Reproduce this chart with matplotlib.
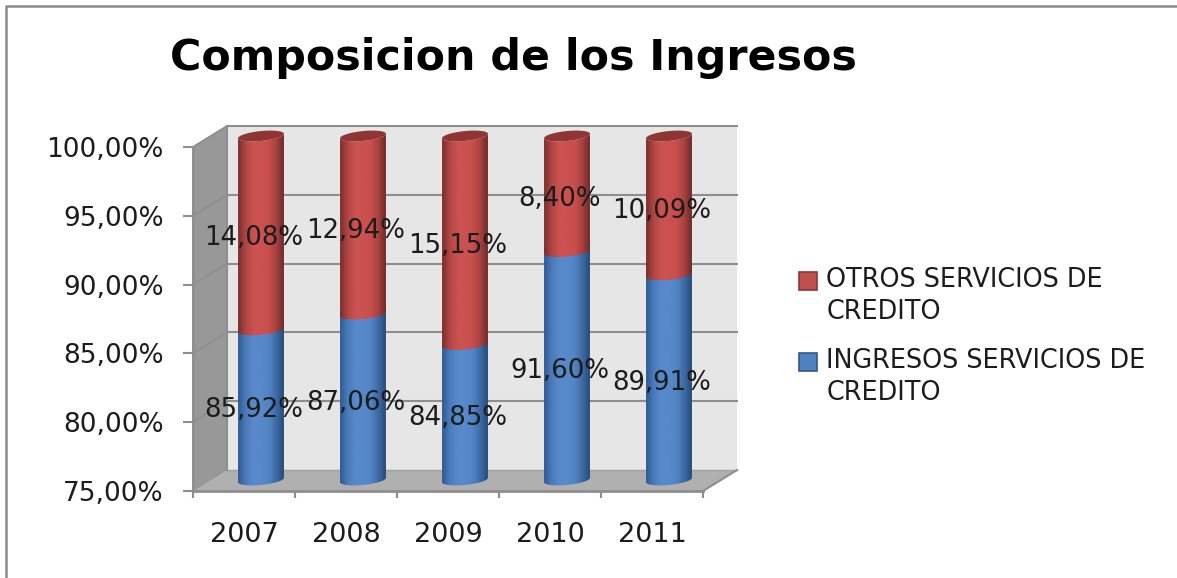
import numpy as np
import matplotlib
matplotlib.use("Agg")
import matplotlib.pyplot as plt
from matplotlib.colors import LinearSegmentedColormap
from matplotlib.legend_handler import HandlerPatch
from matplotlib.lines import Line2D
from matplotlib.patches import PathPatch, Patch, Polygon, Rectangle
from matplotlib.path import Path
from matplotlib.transforms import Affine2D

years = ["2007", "2008", "2009", "2010", "2011"]
ingresos = [85.92, 87.06, 84.85, 91.60, 89.91]
otros = [14.08, 12.94, 15.15, 8.40, 10.09]
ingresos_labels = ["85,92%", "87,06%", "84,85%", "91,60%", "89,91%"]
otros_labels = ["14,08%", "12,94%", "15,15%", "8,40%", "10,09%"]
y_ticks = [75, 80, 85, 90, 95, 100]
y_labels = ["75,00%", "80,00%", "85,00%", "90,00%", "95,00%", "100,00%"]

W, H = 1177, 578
BAR_W = 0.45
ELL_H = 0.36   # half height of the cylinder ends, in axis units
ELL_TILT = 0.16
TEXT = "#1c1c1c"
GRID = "#8e8e8e"

red_cmap = LinearSegmentedColormap.from_list(
    "r", ["#7a2e2c", "#b04644", "#cb5250", "#cb5250", "#c94f4d", "#a84240", "#6f2a28"])
blue_cmap = LinearSegmentedColormap.from_list(
    "b", ["#2f5a92", "#4a7cbc", "#5789cb", "#5789cb", "#5285c6", "#3f6ba6", "#284b78"])

fig = plt.figure(figsize=(W / 100, H / 100), dpi=100, facecolor="white")
# axes box is the front plane of the 3d chart
ax = fig.add_axes([193 / W, 1 - 491 / H, 510 / W, 344 / H])
ax.set_xlim(-0.5, 4.5)
ax.set_ylim(75, 100)
ax.patch.set_visible(False)
for s in ax.spines.values():
    s.set_visible(False)

back = ax.transData + Affine2D().translate(34, 21)
mid = ax.transData + Affine2D().translate(17, 11)
lab = ax.transData + Affine2D().translate(10, 5.5)

# walls
ax.add_patch(Polygon([(-0.5, 75), (4.5, 75), (4.5, 100), (-0.5, 100)], transform=back,
                     fc="#e6e6e6", ec="none", clip_on=False, zorder=1))
x0, x1 = ax.get_xlim()
inv = ax.transData.inverted()
dx = inv.transform((34, 0))[0] - inv.transform((0, 0))[0]
dy = inv.transform((0, 21))[1] - inv.transform((0, 0))[1]
ax.add_patch(Polygon([(x0, 75), (x0 + dx, 75 + dy), (x0 + dx, 100 + dy), (x0, 100)],
                     fc="#989898", ec="#8e8e8e", lw=1, clip_on=False, zorder=1))
ax.add_patch(Polygon([(x0, 75), (x1, 75), (x1 + dx, 75 + dy), (x0 + dx, 75 + dy)],
                     fc="#b0b0b0", ec="none", clip_on=False, zorder=1.5))

# gridlines, back wall and side wall
for v in y_ticks[1:]:
    ax.plot([x0, x1], [v, v], transform=back, color=GRID, lw=1.5, clip_on=False, zorder=2)
    ax.plot([x0, x0 + dx], [v, v + dy], color=GRID, lw=1.2, clip_on=False, zorder=2)
ax.plot([x0, x1], [75, 75], transform=back, color="#a0a0a0", lw=1, clip_on=False, zorder=2)
ax.plot([x0, x0], [75, 100], transform=back, color=GRID, lw=1.5, clip_on=False, zorder=2)
ax.plot([x1, x1 + dx], [75, 75 + dy], color=GRID, lw=1.5, clip_on=False, zorder=2)
ax.plot([x0, x1], [75, 75], color=GRID, lw=2, clip_on=False, zorder=2)
ax.plot([x0, x0], [75, 100], color=GRID, lw=2, clip_on=False, zorder=2)


def ell_pts(c, v, t):
    return np.column_stack([c + BAR_W / 2 * np.cos(t),
                            v + ELL_H * np.sin(t) + ELL_TILT * np.cos(t)])


def cyl_segment(c, v0, v1, cmap, z):
    # side of the cylinder: lower arc at v0, lower arc at v1 going back
    low = np.linspace(np.pi, 2 * np.pi, 40)
    pts = np.vstack([ell_pts(c, v0, low), ell_pts(c, v1, low[::-1])])
    patch = PathPatch(Path(np.vstack([pts, pts[0]]), closed=True), transform=mid,
                      fc="none", ec="none", clip_on=False)
    ax.add_patch(patch)
    im = ax.imshow(np.linspace(0, 1, 128)[None, :], cmap=cmap, aspect="auto",
                   extent=(c - BAR_W / 2, c + BAR_W / 2, v0 - 1, v1 + 1),
                   transform=mid, zorder=z, interpolation="bilinear")
    im.set_clip_box(fig.bbox)
    im.set_clip_path(patch)


for i in range(len(years)):
    cyl_segment(i, 75, ingresos[i] + 0.5, blue_cmap, 3)
    cyl_segment(i, ingresos[i], ingresos[i] + otros[i], red_cmap, 3.2)
    top = ell_pts(i, ingresos[i] + otros[i], np.linspace(0, 2 * np.pi, 60))
    ax.add_patch(Polygon(top, transform=mid, fc="#8f3634", ec="none", clip_on=False, zorder=3.4))

ax.set_xlim(x0, x1)
ax.set_ylim(75, 100)

# data labels
for i in range(len(years)):
    ax.text(i, (75 + ingresos[i]) / 2, ingresos_labels[i], transform=lab, ha="center",
            va="center", fontsize=18.7, color=TEXT, zorder=5, clip_on=False)
    ax.text(i, ingresos[i] + otros[i] / 2, otros_labels[i], transform=lab, ha="center",
            va="center", fontsize=18.7, color=TEXT, zorder=5, clip_on=False)

# ticks
ax.set_yticks(y_ticks, y_labels)
ax.tick_params(axis="y", length=7, width=1.5, color=GRID, pad=14, labelsize=19, labelcolor=TEXT)
ax.set_xticks(np.arange(-0.5, 5, 1), [""] * 6)
ax.tick_params(axis="x", length=5, width=1.5, color=GRID)
ax.set_xticks(np.arange(5), years, minor=True)
ax.tick_params(axis="x", which="minor", length=0, pad=22, labelsize=19.5, labelcolor=TEXT)

fig.text(170 / W, 1 - 58 / H, "Composicion de los Ingresos", fontsize=30.8, fontweight="bold",
         family="DejaVu Sans", color="black", ha="left", va="center")


def first_line_box(legend, orig_handle, xdescent, ydescent, width, height, fontsize):
    # square sits next to the first text line, not the middle of the label
    return Rectangle((xdescent, ydescent + 11), width, height)


handles = [Patch(fc="#c0504d", ec="#8f3634", lw=1.2), Patch(fc="#4f81bd", ec="#2f5a92", lw=1.2)]
leg = fig.legend(handles, ["OTROS SERVICIOS DE\nCREDITO", "INGRESOS SERVICIOS DE\nCREDITO"],
                 loc="upper left", bbox_to_anchor=(799 / W, 1 - 267 / H), frameon=False,
                 fontsize=18.4, handlelength=0.72, handleheight=0.72, handletextpad=0.35,
                 labelspacing=0.9, borderpad=0, borderaxespad=0, labelcolor=TEXT,
                 handler_map={Patch: HandlerPatch(patch_func=first_line_box)})
for t in leg.get_texts():
    t.set_linespacing(1.29)

# outer frame of the pasted chart
fig.add_artist(Line2D([6 / W, 6 / W, 1], [0, 1 - 6 / H, 1 - 6 / H], color="#8a8a8a", lw=1.8))

fig.savefig("out.png", dpi=100)
